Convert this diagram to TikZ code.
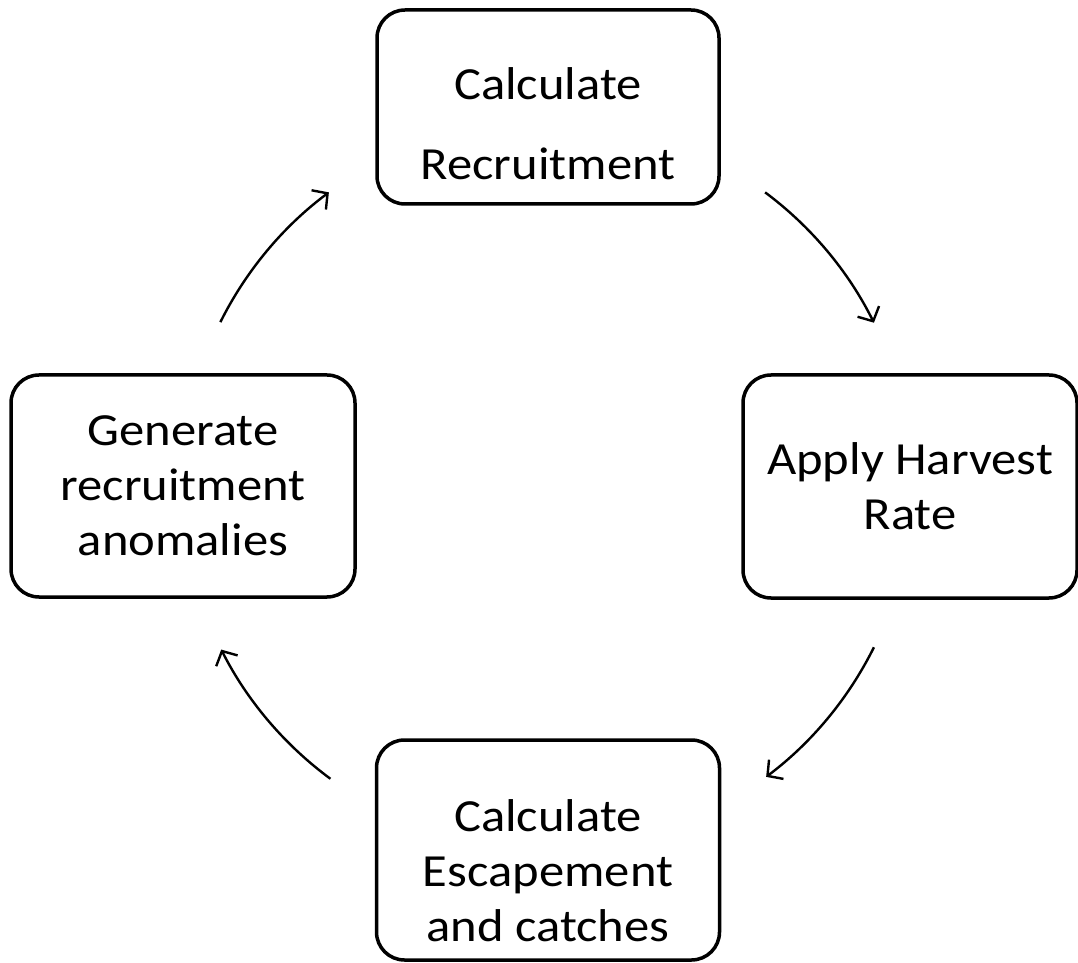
\documentclass[tikz,border=0pt]{standalone}
\usepackage{fontspec}
\setmainfont{Carlito}[FakeStretch=1.1]
\usetikzlibrary{arrows.meta,calc}
\begin{document}
\begin{tikzpicture}[x=1pt,y=1pt,
  box/.style={draw, line width=3.5pt, rounded corners=28pt, align=center,
    font=\fontsize{46}{55}\selectfont, inner sep=0pt},
  arr/.style={line width=2.4pt, -{Straight Barb[length=11pt,width=24pt,line width=2.4pt]}}]
\path[use as bounding box, fill=white] (0,0) rectangle (1078,962);
\node[box, minimum width=342pt, minimum height=194pt] (rec) at (548,855)
  {\rule{0pt}{65pt}Calculate\\[25pt]Recruitment};
\node[box, minimum width=334pt, minimum height=223pt] (harv) at (910,475.5)
  {Apply Harvest\\Rate};
\node[box, minimum width=344pt, minimum height=222pt] (gen) at (183,476)
  {Generate\\recruitment\\anomalies};
\node[box, minimum width=343pt, minimum height=220pt] (esc) at (548,112)
  {\rule{0pt}{73pt}Calculate\\Escapement\\and catches};
\coordinate (o) at (547,477);
\coordinate (a1) at ($(o)+(153.5:365)$);
\coordinate (a2) at ($(o)+(53.3:365)$);
\coordinate (a3) at ($(o)+(-26.4:365)$);
\coordinate (a4) at ($(o)+(-126.4:365)$);
\draw[arr] (a1) arc[start angle=153.5, end angle=126.7, radius=365];
\draw[arr] (a2) arc[start angle=53.3, end angle=26.4, radius=365];
\draw[arr] (a3) arc[start angle=-26.4, end angle=-53.1, radius=365];
\draw[arr] (a4) arc[start angle=-126.4, end angle=-153.2, radius=365];
\end{tikzpicture}
\end{document}
